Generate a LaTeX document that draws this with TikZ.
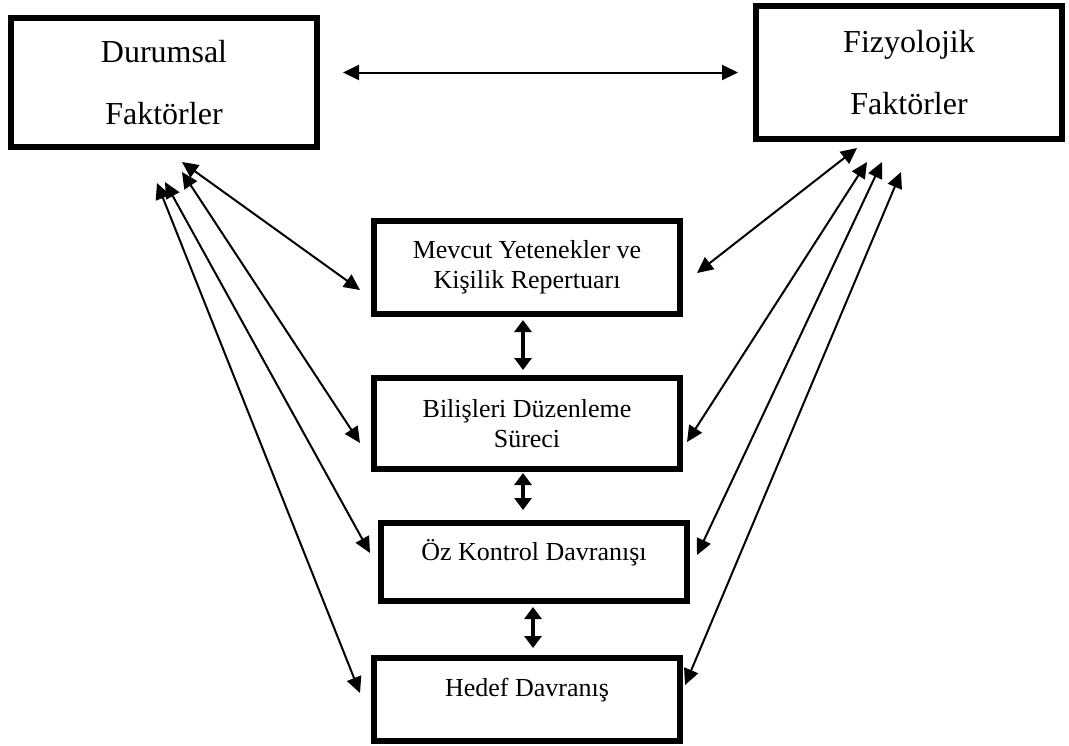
\documentclass[tikz,border=0pt]{standalone}
\usepackage{fontspec}
\setmainfont{Liberation Serif}
\usetikzlibrary{arrows.meta,calc}

\begin{document}
\begin{tikzpicture}[x=0.5pt,y=-0.5pt,>={Triangle[length=8pt,width=7.5pt]}]
	\tikzset{kutu/.style={draw,line width=3pt,minimum width=153pt,inner sep=0pt,align=center},
		buyuk/.style={kutu,font=\fontsize{16}{31}\selectfont},
		orta/.style={kutu,font=\fontsize{13}{15}\selectfont},
		ok/.style={<->,line width=1pt},
		dikok/.style={<->,line width=1.75pt,>={Triangle[length=6pt,width=8.5pt]}}}
	\useasboundingbox (0,0) rectangle (1069,745);
	% Üst kutular
	\node[buyuk,minimum height=64.5pt] (dur) at (164,82.5) {Durumsal\\Faktörler};
	\node[buyuk,minimum height=66.5pt] (fiz) at (909,72.5) {Fizyolojik\\Faktörler};
	% Orta sütun
	\node[orta,minimum height=46.5pt] (mev) at (527,267.5) {Mevcut Yetenekler ve\\Kişilik Repertuarı};
	\node[orta,minimum height=45.5pt] (bil) at (527,423.5) {Bilişleri Düzenleme\\Süreci};
	\node[orta,minimum height=39pt,text depth=12pt] (oz) at (534,562) {Öz Kontrol Davranışı};
	\node[orta,minimum height=41.5pt,text depth=12pt] (hed) at (527,699.5) {Hedef Davranış};
	% Yatay ok
	\draw[ok,shorten <=11.5pt,shorten >=7.5pt] (dur.east |- fiz.west) -- (fiz.west);
	% Sol oklar
	\foreach \dx/\dy/\n/\hx/\hy in {18/12/mev/-11/22.5, 18/22/bil/-11/19.5, 1/32/oz/-8/-9, -7/33/hed/-11/-6.5}
		\draw[ok] ($(dur.south)+(\dx,\dy)$) -- ($(\n.west)+(\hx,\hy)$);
	% Sağ oklar
	\foreach \dx/\dy/\n/\hx/\hy in {-52/6/mev/14/5.5, -42/20/bil/4/18.5, -27/20/oz/7/-7, -8/30/hed/2/-14.5}
		\draw[ok] ($(fiz.south)+(\dx,\dy)$) -- ($(\n.east)+(\hx,\hy)$);
	% Dikey oklar
	\draw[dikok,shorten <=1.5pt,shorten >=2.5pt] ([xshift=-2pt]mev.south) -- ([xshift=-2pt]bil.north);
	\draw[dikok,shorten <=0.5pt,shorten >=5pt] ([xshift=-2pt]bil.south) -- ([xshift=-2pt]bil.south |- oz.north);
	\draw[dikok,shorten <=1.5pt,shorten >=3.5pt] ([xshift=-0.5pt]oz.south) -- ([xshift=-0.5pt]oz.south |- hed.north);
\end{tikzpicture}
\end{document}
